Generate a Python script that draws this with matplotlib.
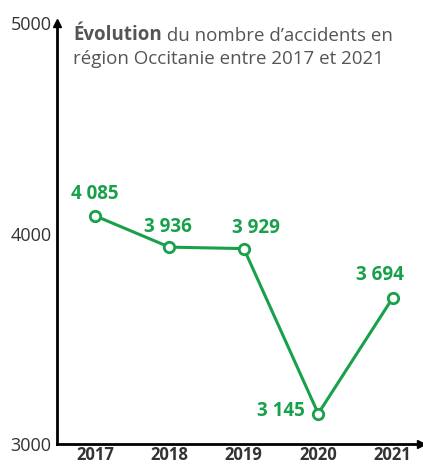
import matplotlib.pyplot as plt

years = [2017, 2018, 2019, 2020, 2021]
accidents = [4085, 3936, 3929, 3145, 3694]
labels = ['4 085', '3 936', '3 929', '3 145', '3 694']
green = '#18a04a'

plt.rcParams['font.family'] = ['Open Sans', 'DejaVu Sans']

fig = plt.figure(figsize=(4.23, 4.65), dpi=100)
ax = fig.add_axes([0.135, 0.045, 0.86, 0.905])

ax.plot(years, accidents, color=green, lw=2.2, marker='o', ms=7.5,
        mfc='white', mec=green, mew=2, zorder=3)

# label offsets in points (label centre relative to the point)
offsets = [(0, 16), (-1, 14.5), (9, 14.5), (-27, 2), (-9, 16.5)]
for x, y, lab, off in zip(years, accidents, labels, offsets):
    ax.annotate(lab, (x, y), xytext=off, textcoords='offset points',
                ha='center', va='center',
                color=green, fontsize=13.5, fontweight='bold')

ax.set_xlim(2016.49, 2021.38)
ax.set_ylim(3000, 5000)
ax.set_xticks(years)
ax.set_xticklabels([str(y) for y in years], fontweight='bold', fontsize=12, color='#222222')
ax.set_yticks([3000, 4000, 5000])
ax.tick_params(axis='both', length=0, colors='#333333')
ax.tick_params(axis='y', labelsize=13, pad=4)
ax.tick_params(axis='x', pad=1.5)

for s in ['top', 'right']:
    ax.spines[s].set_visible(False)
for s in ['left', 'bottom']:
    ax.spines[s].set_linewidth(2)
    ax.spines[s].set_color('black')

# arrow heads
ax.plot([0], [1], marker='^', color='black', ms=6, transform=ax.transAxes, clip_on=False)
ax.plot([1], [0], marker='>', color='black', ms=6, transform=ax.transAxes, clip_on=False)

t = ax.text(0.045, 0.995, 'Évolution', transform=ax.transAxes, fontsize=13.5,
            fontweight='bold', color='#555555', va='top', ha='left')
ax.annotate(' du nombre d\u2019accidents en', xy=(1, 0), xycoords=t, va='bottom',
            fontsize=13.5, color='#555555')
ax.text(0.045, 0.936, 'région Occitanie entre 2017 et 2021', transform=ax.transAxes,
        fontsize=13.5, color='#555555', va='top', ha='left')

fig.savefig('out.png', dpi=100)
